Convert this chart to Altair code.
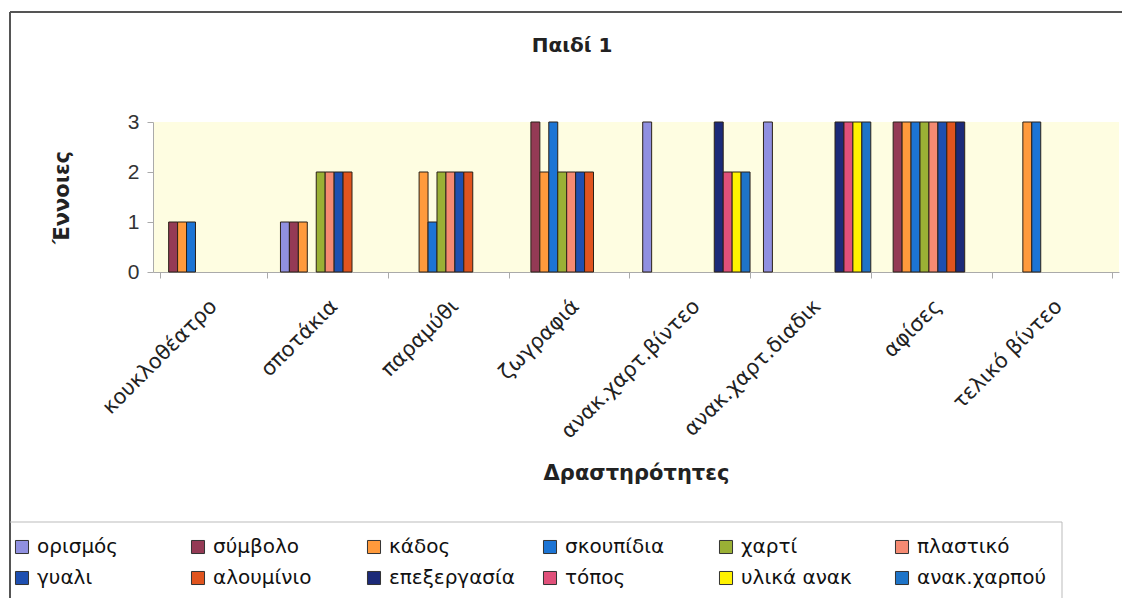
import altair as alt
import pandas as pd

# Activities (x categories) and the concept series, in drawing order
categories = ["κουκλοθέατρο", "σποτάκια", "παραμύθι", "ζωγραφιά",
              "ανακ.χαρτ.βίντεο", "ανακ.χαρτ.διαδικ", "αφίσες", "τελικό βίντεο"]
series = ["ορισμός", "σύμβολο", "κάδος", "σκουπίδια", "χαρτί", "πλαστικό",
          "γυαλι", "αλουμίνιο", "επεξεργασία", "τόπος", "υλικά ανακ", "ανακ.χαρπού"]

# One list per series, one value per activity
v_orismos = [0, 1, 0, 0, 3, 3, 0, 0]
v_symvolo = [1, 1, 0, 3, 0, 0, 3, 0]
v_kados = [1, 1, 2, 2, 0, 0, 3, 3]
v_skoupidia = [1, 0, 1, 3, 0, 0, 3, 3]
v_xarti = [0, 2, 2, 2, 0, 0, 3, 0]
v_plastiko = [0, 2, 2, 2, 0, 0, 3, 0]
v_gyali = [0, 2, 2, 2, 0, 0, 3, 0]
v_alouminio = [0, 2, 2, 2, 0, 0, 3, 0]
v_epexergasia = [0, 0, 0, 0, 3, 3, 3, 0]
v_topos = [0, 0, 0, 0, 2, 3, 0, 0]
v_ylika = [0, 0, 0, 0, 2, 3, 0, 0]
v_anakxarpou = [0, 0, 0, 0, 2, 3, 0, 0]

series_values = [v_orismos, v_symvolo, v_kados, v_skoupidia, v_xarti, v_plastiko,
                 v_gyali, v_alouminio, v_epexergasia, v_topos, v_ylika, v_anakxarpou]

colors = ["#9090E0", "#943A55", "#FF9A3C", "#1C74D4", "#9AB035", "#F58A72",
          "#1E4FB0", "#E0541E", "#1C2A78", "#E0507A", "#FFF200", "#1E74C8"]

rows = [
    {"Δραστηριότητα": c, "Έννοια": s, "Τιμή": v}
    for s, vals in zip(series, series_values)
    for c, v in zip(categories, vals)
    if v > 0
]
df = pd.DataFrame(rows)

FONT = "DejaVu Sans"
gap = 1.5 / 13.5  # gap between groups relative to one category slot

bars = alt.Chart(df).mark_bar(stroke="#2b2118", strokeWidth=1).encode(
    x=alt.X(
        "Δραστηριότητα:N",
        sort=categories,
        scale=alt.Scale(domain=categories, paddingInner=gap, paddingOuter=gap / 2),
        axis=alt.Axis(
            title="Δραστηρότητες",
            titleFont=FONT, titleFontSize=21, titleFontWeight="bold", titleColor="#222",
            titleX=483, titleY=201, titleBaseline="middle",
            labelAngle=-45, labelAlign="right", labelBaseline="middle",
            labelFont=FONT, labelFontSize=21, labelColor="#222", labelPadding=25,
            tickBand="extent", tickSize=6, tickColor="#aaa",
            domainColor="#aaa", labelLimit=300,
        ),
    ),
    xOffset=alt.XOffset("Έννοια:N", sort=series,
                        scale=alt.Scale(domain=series, paddingInner=0, paddingOuter=0)),
    y=alt.Y(
        "Τιμή:Q",
        scale=alt.Scale(domain=[0, 3], nice=False),
        axis=alt.Axis(
            values=[0, 1, 2, 3], format="d", grid=False,
            title="Έννοιες",
            titleFont=FONT, titleFontSize=21, titleFontWeight="bold", titleColor="#222",
            titleX=-91, titleY=75, titleAngle=-90, titleAlign="center", titleBaseline="middle",
            labelFont="Liberation Sans", labelFontSize=21, labelColor="#333", labelPadding=8,
            tickSize=6, tickColor="#aaa", domainColor="#aaa",
        ),
    ),
    color=alt.Color(
        "Έννοια:N",
        sort=series,
        scale=alt.Scale(domain=series, range=colors),
        legend=alt.Legend(
            title=None, orient="none", legendX=-141, legendY=415,
            direction="horizontal", columns=6, gridAlign="all",
            symbolType="square", symbolSize=170, symbolStrokeColor="#333",
            symbolStrokeWidth=1, symbolOpacity=1,
            labelFont=FONT, labelFontSize=20, labelColor="#111", labelOffset=5,
            labelLimit=200, columnPadding=22, rowPadding=11,
        ),
    ),
)

one = pd.DataFrame({"k": [0]})
frame_color = "#555"

# Outer chart frame: top and left edges
frame_top = alt.Chart(one).mark_rule(color=frame_color, strokeWidth=2).encode(
    x=alt.value(-143), x2=alt.value(969), y=alt.value(-110))
frame_left = alt.Chart(one).mark_rule(color=frame_color, strokeWidth=2).encode(
    x=alt.value(-143), y=alt.value(-110), y2=alt.value(476))

# Legend box edges
legend_top = alt.Chart(one).mark_rule(color="#bbb", strokeWidth=1).encode(
    x=alt.value(-143), x2=alt.value(909), y=alt.value(400))
legend_right = alt.Chart(one).mark_rule(color="#bbb", strokeWidth=1).encode(
    x=alt.value(909), y=alt.value(400), y2=alt.value(476))

chart = alt.layer(bars, frame_top, frame_left, legend_top, legend_right).properties(
    width=966,
    height=150,
    autosize=alt.AutoSizeParams(type="none"),
    padding={"left": 153, "top": 122, "right": 3, "bottom": 326},
    background="white",
    title=alt.TitleParams(
        "Παιδί 1", font=FONT, fontSize=20, fontWeight="bold", color="#222",
        anchor="middle", frame="group", dx=-64, dy=61, offset=0, baseline="alphabetic",
    ),
).configure_view(fill="#FEFDE1", strokeWidth=0)

chart.save("out.html", embed_options={"renderer": "svg", "actions": False})
